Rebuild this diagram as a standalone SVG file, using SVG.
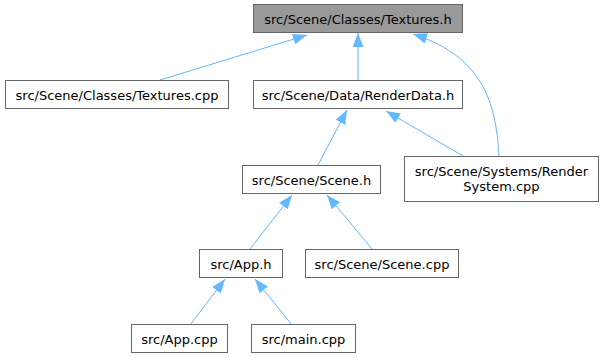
<svg xmlns="http://www.w3.org/2000/svg" width="603" height="358" viewBox="0 0 603 358">
  <style>
    .node rect { fill: #ffffff; stroke: #666666; stroke-width: 1; }
    .node.root rect { fill: #999999; }
    .node text { font-family: "DejaVu Sans", "Liberation Sans", sans-serif; font-size: 13px; fill: #000000; text-anchor: middle; }
    .edges path { fill: none; stroke: #63b8ff; stroke-width: 1; marker-end: url(#arrow); }
  </style>
  <defs>
    <marker id="arrow" markerUnits="userSpaceOnUse" markerWidth="14" markerHeight="12" viewBox="0 0 13 10" refX="13" refY="5" orient="auto">
      <polygon points="0,0 13,5 0,10" fill="#63b8ff"/>
    </marker>
  </defs>
  <rect width="603" height="358" fill="#ffffff"/>

  <g class="edges">
    <path d="M160,80 L307,35"/>
    <path d="M358,81 L358,33"/>
    <path d="M499,156 C496,110 488,58 413,34"/>
    <path d="M318,165 L347,110"/>
    <path d="M463,156 L386,111"/>
    <path d="M250,249 L292,195"/>
    <path d="M372,249 L327,195"/>
    <path d="M190,325 L225,279"/>
    <path d="M292,325 L255,279"/>
  </g>

  <g id="node-textures-h" class="node root">
    <rect x="253.5" y="4.5" width="209" height="28"/>
    <text x="358" y="23.5">src/Scene/Classes/Textures.h</text>
  </g>
  <g id="node-textures-cpp" class="node">
    <rect x="5.5" y="80.5" width="223" height="28"/>
    <text x="117" y="100">src/Scene/Classes/Textures.cpp</text>
  </g>
  <g id="node-renderdata-h" class="node">
    <rect x="253.5" y="80.5" width="209" height="28"/>
    <text x="358" y="100">src/Scene/Data/RenderData.h</text>
  </g>
  <g id="node-rendersystem-cpp" class="node">
    <rect x="404.5" y="156.5" width="194" height="45"/>
    <text x="501.5" y="176">src/Scene/Systems/Render</text>
    <text x="501.5" y="191">System.cpp</text>
  </g>
  <g id="node-scene-h" class="node">
    <rect x="242.5" y="165.5" width="138" height="28"/>
    <text x="311.5" y="185">src/Scene/Scene.h</text>
  </g>
  <g id="node-app-h" class="node">
    <rect x="199.5" y="249.5" width="83" height="28"/>
    <text x="241" y="269">src/App.h</text>
  </g>
  <g id="node-scene-cpp" class="node">
    <rect x="305.5" y="249.5" width="153" height="28"/>
    <text x="382" y="269">src/Scene/Scene.cpp</text>
  </g>
  <g id="node-app-cpp" class="node">
    <rect x="131.5" y="324.5" width="96" height="28"/>
    <text x="179.5" y="344">src/App.cpp</text>
  </g>
  <g id="node-main-cpp" class="node">
    <rect x="251.5" y="324.5" width="104" height="28"/>
    <text x="303.5" y="344">src/main.cpp</text>
  </g>
</svg>
